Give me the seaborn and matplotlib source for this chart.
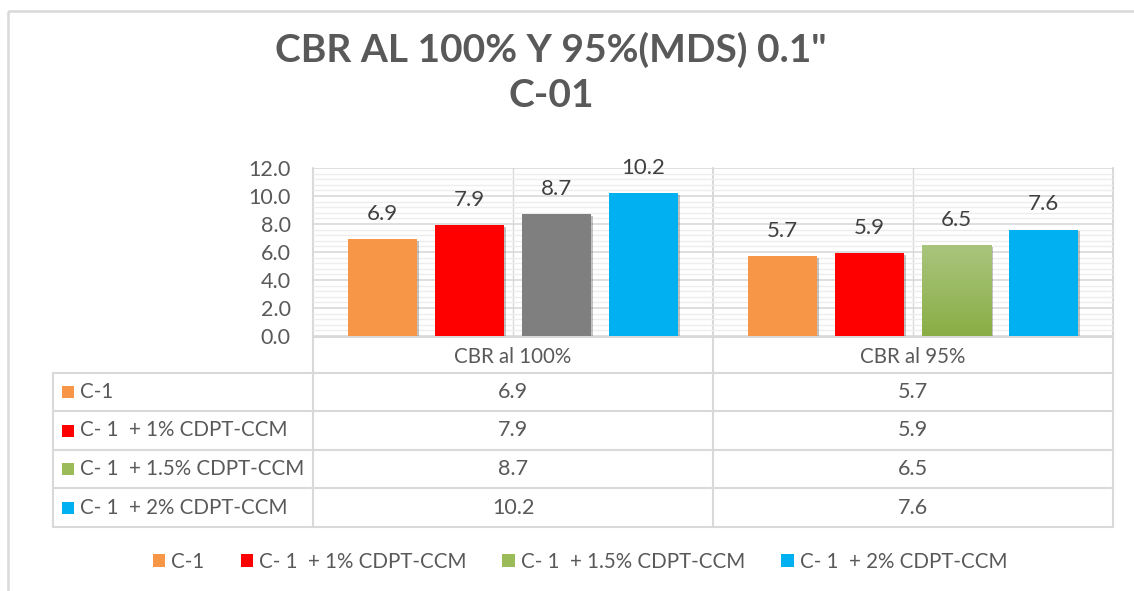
import numpy as np
import pandas as pd
import matplotlib
matplotlib.use("Agg")
import matplotlib.pyplot as plt
import matplotlib.patheffects as pe
from matplotlib.patches import Patch, Rectangle
from matplotlib.ticker import MultipleLocator
from matplotlib.colors import LinearSegmentedColormap
import seaborn as sns

# ---------------- data ----------------
categories = ["CBR al 100%", "CBR al 95%"]
series = ["C-1", "C- 1  + 1% CDPT-CCM", "C- 1  + 1.5% CDPT-CCM", "C- 1  + 2% CDPT-CCM"]
values_100 = [6.9, 7.9, 8.7, 10.2]
values_95 = [5.7, 5.9, 6.5, 7.6]
yticks = [0, 2, 4, 6, 8, 10, 12]
title = "CBR AL 100% Y 95%(MDS) 0.1\"\nC-01"

colors = ["#F79646", "#FF0000", "#9BBB59", "#00B0F0"]
gray_bar = "#7F7F7F"
txt = "#595959"
grid_major = "#D9D9D9"
grid_minor = "#EDEDED"

sns.set_theme(style="white")
plt.rcParams["font.family"] = ["Lato", "DejaVu Sans"]

W, H = 1134, 591
fig = plt.figure(figsize=(W / 100, H / 100), dpi=100)

# overlay axes in pixel coordinates for frame / table
tab = fig.add_axes([0, 0, 1, 1], zorder=0)
tab.set_xlim(0, W)
tab.set_ylim(H, 0)
tab.axis("off")

# plot area
x0, x1, ytop, ybot = 313, 1113, 168, 336
ax = fig.add_axes([x0 / W, 1 - ybot / H, (x1 - x0) / W, (ybot - ytop) / H], zorder=2)
ax.patch.set_alpha(0)

df = pd.DataFrame({
    "category": np.repeat(categories, len(series)),
    "series": series * len(categories),
    "value": values_100 + values_95,
})
sns.barplot(data=df, x="category", y="value", hue="series", hue_order=series,
            palette=colors, width=0.87, gap=0.2, ax=ax, legend=False,
            saturation=1, edgecolor="none", linewidth=0)

ax.set_xlim(-0.5, 1.5)
ax.set_ylim(0, 12)
ax.set_yticks(yticks)
ax.set_yticklabels([f"{v:.1f}" for v in yticks], color=txt, fontsize=15.5)
ax.yaxis.set_minor_locator(MultipleLocator(0.4))
ax.tick_params(axis="y", which="both", length=0, pad=16)
ax.tick_params(axis="x", length=0, pad=8, labelsize=14.8, labelcolor=txt)
ax.set_xlabel("")
ax.set_ylabel("")
ax.grid(axis="y", which="minor", color=grid_minor, lw=1.0, zorder=0)
ax.grid(axis="y", which="major", color=grid_major, lw=1.2, zorder=0)
for xv in [0, 1]:
    ax.axvline(xv, color=grid_major, lw=1.0, zorder=0)
ax.set_axisbelow(True)
for s in ax.spines.values():
    s.set_visible(False)

shadow = [pe.SimplePatchShadow(offset=(1.2, -1.2), shadow_rgbFace="#555555", alpha=0.35), pe.Normal()]
for i, cont in enumerate(ax.containers):
    for bar in cont:
        bar.set_path_effects(shadow)
        bar.set_zorder(3)
    ax.bar_label(cont, fmt="%.1f", padding=11, fontsize=16, color="#404040")

# gray bar in first group for third series
ax.containers[2][0].set_facecolor(gray_bar)
# green gradient for third series in second group (light top, darker bottom)
gb = ax.containers[2][1]
bx, by = gb.get_x(), gb.get_y()
bw, bh = gb.get_width(), gb.get_height()
grad = np.linspace(0, 1, 256).reshape(-1, 1)
cmap = LinearSegmentedColormap.from_list("g", ["#AAC57E", "#8AAD45"])
im = ax.imshow(grad, cmap=cmap, aspect="auto", extent=[bx, bx + bw, by, by + bh],
               origin="upper", zorder=3.5)
im.set_clip_path(gb)
ax.set_xlim(-0.5, 1.5)
ax.set_ylim(0, 12)

# outer chart border
tab.add_patch(Rectangle((8, 11), W, H, fill=False, ec="#D9D9D9", lw=1.8))

# table lines
lc = "#D9D9D9"
row_lines = [373, 411, 450, 488, 527]
tab.plot([x0, x1], [ybot + 1, ybot + 1], color=lc, lw=1.5)
for yl in row_lines:
    tab.plot([53, x1], [yl, yl], color=lc, lw=1.5)
tab.plot([53, 53], [373, 527], color=lc, lw=1.5)
for xv in [x0, 713, x1]:
    tab.plot([xv, xv], [ytop, 527], color=lc, lw=1.5)

# table contents
col_centers = [513, 913]
row_centers = [(row_lines[i] + row_lines[i + 1]) / 2 for i in range(4)]
table_vals = [values_100, values_95]
for r, (name, c) in enumerate(zip(series, colors)):
    yc = row_centers[r]
    tab.add_patch(Rectangle((62, yc - 6), 12, 12, color=c, lw=0))
    tab.text(80, yc, name, ha="left", va="center", fontsize=14.8, color=txt)
    for k, xc in enumerate(col_centers):
        tab.text(xc, yc, f"{table_vals[k][r]:.1f}", ha="center", va="center",
                 fontsize=15.5, color=txt)

# title
fig.text(551 / W, 1 - 72 / H, title, ha="center", va="center", fontsize=28,
         fontweight="bold", color=txt, linespacing=1.35)

# legend
handles = [Patch(facecolor=c, edgecolor="none") for c in colors]
fig.legend(handles, series, loc="center", bbox_to_anchor=(580 / W, 1 - 562 / H),
           ncol=4, frameon=False, fontsize=14.8, labelcolor=txt,
           handlelength=0.6, handleheight=0.6, handletextpad=0.3,
           columnspacing=1.75)

fig.savefig("out.png", dpi=100)
